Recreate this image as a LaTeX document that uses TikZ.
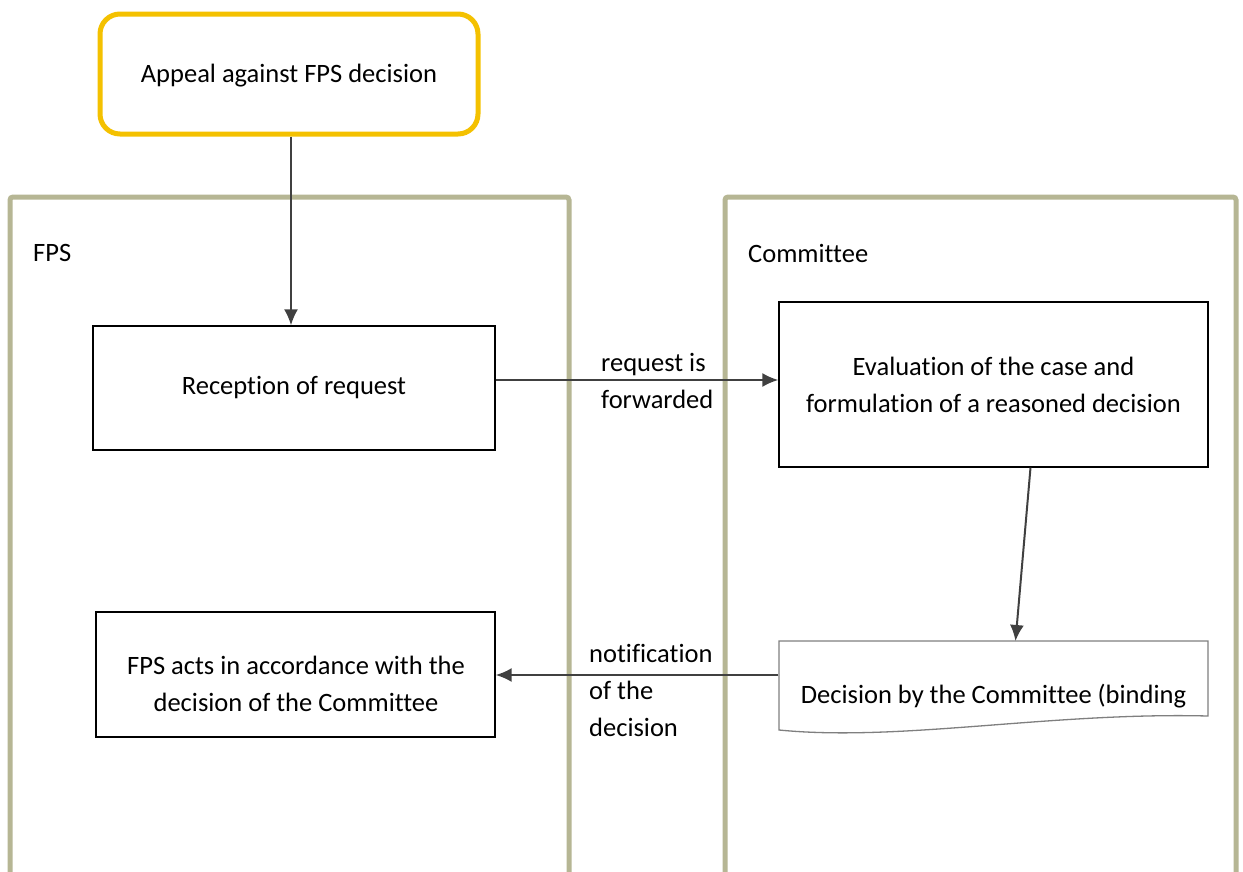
\documentclass[tikz,border=0pt]{standalone}
\usepackage{fontspec}
\setmainfont{Carlito}[Ligatures=NoCommon]
\usepackage{xcolor}
\usepackage{tikz}
\tikzset{>=latex}
\usetikzlibrary{arrows.meta}
\def\rescale{1pt}

\definecolor{appealyellow}{HTML}{F4C100}
\definecolor{laneolive}{HTML}{B6B694}
\definecolor{flowgray}{HTML}{404040}
\definecolor{docgray}{HTML}{7F7F7F}

\tikzset{
  lane/.style={line width=5pt, draw=laneolive, rounded corners=3pt},
  appealbox/.style={draw=appealyellow, line width=5pt, rounded corners=20pt, fill=white},
  stepbox/.style={draw=black, line width=1.3pt, fill=white, align=center},
  flow/.style={draw=flowgray, line width=2pt, -{Latex[length=16pt,width=14pt]}},
  lanetitle/.style={anchor=west, inner sep=0pt},
  flowlabel/.style={anchor=west, inner sep=0pt, align=left},
}

\begin{document}
\begin{tikzpicture}[x=\rescale, y=-\rescale, font=\fontsize{26.5}{37}\selectfont]

\useasboundingbox (0,0) rectangle (1243,871);

% Lanes
\draw[lane] (10,872) -- (10,197) -- (569,197) -- (569,872);
\draw[lane] (725,872) -- (725,197) -- (1236,197) -- (1236,872);
\node[lanetitle] (fpstitle) at (33,253) {FPS};
\node[lanetitle] (committeetitle) at (748,253) {Committee};

% Start
\node[appealbox, minimum width=378pt, minimum height=120pt] (appeal) at (289,74) {};
\node (appealtext) at (289,76) {Appeal against FPS decision};

% Steps
\node[stepbox, minimum width=402pt, minimum height=124pt] (reception) at (294,388) {Reception of request};
\node[stepbox, minimum width=429pt, minimum height=165pt] (evaluation) at (993.5,384.5) {Evaluation of the case and\\formulation of a reasoned decision};
\node[stepbox, minimum width=399pt, minimum height=125pt] (fpsacts) at (295.5,674.5) {};
\node[align=center] (fpsactstext) at (296,684) {FPS acts in accordance with the\\decision of the Committee};

% Document
\draw[line width=1.3pt, draw=docgray, fill=white] (779,730) -- (779,641) -- (1208,641) -- (1208,716)
  .. controls (1050,712) and (900,742) .. cycle;
\node[inner sep=0pt] (decision) at (993.5,696) {Decision by the Committee (binding};

% Connectors
\draw[flow] ([xshift=2pt]appeal.south) -- ([xshift=-3pt]reception.north);
\draw[flow] ([yshift=8pt]reception.east) -- ([yshift=8pt]evaluation.west |- reception.east);
\draw[flow] ([xshift=37pt]evaluation.south) -- ([xshift=22pt]decision.north |- 0,641);
\draw[flow] (evaluation.west |- 0,675) -- (fpsacts.east |- 0,675);

\node[flowlabel] (forwarded) at (601,381) {request is\\forwarded};
\node[flowlabel] (notification) at (589,690) {notification\\of the\\decision};

\end{tikzpicture}
\end{document}
